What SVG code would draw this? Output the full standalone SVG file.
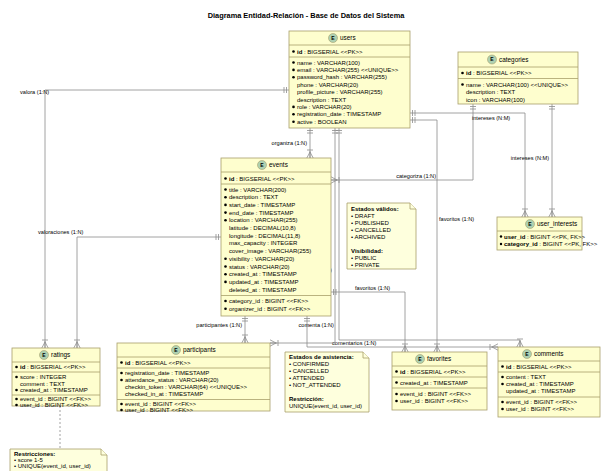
<svg xmlns="http://www.w3.org/2000/svg" width="613" height="471" viewBox="0 0 613 471">
<style>
text{font-family:"Liberation Sans",Arial,sans-serif;fill:#000}
.t{font-size:7.4px;font-weight:bold}
.a{font-size:6px}
.h{font-size:6.4px}
.l{font-size:5.6px}
.box{fill:#FEFECE;stroke:#A89F6B;stroke-width:0.8}
.sep{stroke:#A89F6B;stroke-width:0.8}
.note{fill:#FEFFDD;stroke:#A89F6B;stroke-width:0.8}
.ec{fill:#ADD1B2;stroke:#A89F6B;stroke-width:0.6}
.el{font-size:5px;font-weight:bold;text-anchor:middle}
.c{fill:none;stroke:#8C8C8C;stroke-width:0.8}
.b{fill:#000}
</style>
<defs>
<marker id="many" markerUnits="userSpaceOnUse" markerWidth="10" markerHeight="10" refX="10" refY="5" orient="auto">
<path d="M3,5 L10,5 M4,5 L10,1.8 M4,5 L10,8.2 M2,2 L2,8" fill="none" stroke="#8C8C8C" stroke-width="0.8"/>
</marker>
<marker id="one" markerUnits="userSpaceOnUse" markerWidth="10" markerHeight="10" refX="10" refY="5" orient="auto-start-reverse">
<path d="M5,2 L5,8 M7.5,2 L7.5,8" fill="none" stroke="#8C8C8C" stroke-width="0.8"/>
</marker>
</defs>
<rect width="613" height="471" fill="#FFFFFF"/>
<text class="t" x="306" y="18" text-anchor="middle">Diagrama Entidad-Relación - Base de Datos del Sistema</text>

<g id="connectors">
<polyline class="c" points="289,90 45,90 45,348" marker-start="url(#one)" marker-end="url(#many)"/>
<text class="l" x="20" y="94">valora (1:N)</text>
<polyline class="c" points="221,237 77,237 77,348" marker-start="url(#one)" marker-end="url(#many)"/>
<text class="l" x="38" y="234">valoraciones (1:N)</text>
<polyline class="c" points="310,128 310,158" marker-start="url(#one)" marker-end="url(#many)"/>
<text class="l" x="307" y="145" text-anchor="end">organiza (1:N)</text>
<polyline class="c" points="473,104 473,180 331,180" marker-start="url(#one)" marker-end="url(#many)"/>
<text class="l" x="436" y="178" text-anchor="end">categoriza (1:N)</text>
<polyline class="c" points="410,113 525,113 525,217" marker-start="url(#one)" marker-end="url(#many)"/>
<text class="l" x="472" y="120">intereses (N:M)</text>
<polyline class="c" points="552,104 552,217" marker-start="url(#one)" marker-end="url(#many)"/>
<text class="l" x="549" y="160" text-anchor="end">intereses (N:M)</text>
<polyline class="c" points="410,120 437,120 437,352" marker-start="url(#one)" marker-end="url(#many)"/>
<text class="l" x="439" y="221">favoritos (1:N)</text>
<polyline class="c" points="331,292 405,292 405,352" marker-start="url(#one)" marker-end="url(#many)"/>
<text class="l" x="355" y="290">favoritos (1:N)</text>
<polyline class="c" points="245,316 245,343" marker-start="url(#one)" marker-end="url(#many)"/>
<text class="l" x="242" y="327" text-anchor="end">participantes (1:N)</text>
<polyline class="c" points="307,316 307,347 498,347" marker-start="url(#one)" marker-end="url(#many)"/>
<text class="l" x="332" y="345">comentarios (1:N)</text>
<polyline class="c" points="335,128 335,343 270,343" marker-start="url(#one)" marker-end="url(#many)"/>
<text class="l" x="332" y="272" text-anchor="end">participa (1:N)</text>
<polyline class="c" points="339,128 339,340 520,340 520,347" marker-start="url(#one)" marker-end="url(#many)"/>
<text class="l" x="334" y="327" text-anchor="end">comenta (1:N)</text>
<line class="c" x1="60" y1="406" x2="60" y2="449" stroke-dasharray="2,2"/>
</g>

<g id="users">
<rect class="box" x="289" y="31" width="121" height="97"/>
<circle class="ec" cx="333" cy="38" r="4.5"/><text class="el" x="333" y="39.8">E</text>
<text class="h" x="340" y="40.3">users</text>
<line class="sep" x1="289" y1="45" x2="410" y2="45"/>
<circle class="b" cx="293.5" cy="51.5" r="1.3"/><text class="a" x="297" y="53.5"><tspan font-weight="bold">id</tspan> : BIGSERIAL &lt;&lt;PK&gt;&gt;</text>
<line class="sep" x1="289" y1="57" x2="410" y2="57"/>
<circle class="b" cx="293.5" cy="62.5" r="1.3"/><text class="a" x="297" y="64.5">name : VARCHAR(100)</text>
<circle class="b" cx="293.5" cy="69.9" r="1.3"/><text class="a" x="297" y="71.9">email : VARCHAR(255) &lt;&lt;UNIQUE&gt;&gt;</text>
<circle class="b" cx="293.5" cy="77.3" r="1.3"/><text class="a" x="297" y="79.3">password_hash : VARCHAR(255)</text>
<text class="a" x="297" y="86.7">phone : VARCHAR(20)</text>
<text class="a" x="297" y="94.1">profile_picture : VARCHAR(255)</text>
<text class="a" x="297" y="101.5">description : TEXT</text>
<circle class="b" cx="293.5" cy="106.9" r="1.3"/><text class="a" x="297" y="108.9">role : VARCHAR(20)</text>
<circle class="b" cx="293.5" cy="114.3" r="1.3"/><text class="a" x="297" y="116.3">registration_date : TIMESTAMP</text>
<circle class="b" cx="293.5" cy="121.7" r="1.3"/><text class="a" x="297" y="123.7">active : BOOLEAN</text>
</g>

<g id="categories">
<rect class="box" x="458" y="52" width="120" height="52"/>
<circle class="ec" cx="492" cy="59.5" r="4.5"/><text class="el" x="492" y="61.3">E</text>
<text class="h" x="499" y="61.8">categories</text>
<line class="sep" x1="458" y1="67" x2="578" y2="67"/>
<circle class="b" cx="462.5" cy="73" r="1.3"/><text class="a" x="466" y="75"><tspan font-weight="bold">id</tspan> : BIGSERIAL &lt;&lt;PK&gt;&gt;</text>
<line class="sep" x1="458" y1="78.5" x2="578" y2="78.5"/>
<circle class="b" cx="462.5" cy="84.5" r="1.3"/><text class="a" x="466" y="86.5">name : VARCHAR(100) &lt;&lt;UNIQUE&gt;&gt;</text>
<text class="a" x="466" y="94">description : TEXT</text>
<text class="a" x="466" y="101.5">icon : VARCHAR(100)</text>
</g>

<g id="events">
<rect class="box" x="221" y="158" width="110" height="158"/>
<circle class="ec" cx="262" cy="165" r="4.5"/><text class="el" x="262" y="166.8">E</text>
<text class="h" x="269" y="167.3">events</text>
<line class="sep" x1="221" y1="172" x2="331" y2="172"/>
<circle class="b" cx="225.5" cy="178.5" r="1.3"/><text class="a" x="229" y="180.5"><tspan font-weight="bold">id</tspan> : BIGSERIAL &lt;&lt;PK&gt;&gt;</text>
<line class="sep" x1="221" y1="184" x2="331" y2="184"/>
<circle class="b" cx="225.5" cy="189.5" r="1.3"/><text class="a" x="229" y="191.5">title : VARCHAR(200)</text>
<circle class="b" cx="225.5" cy="197.2" r="1.3"/><text class="a" x="229" y="199.2">description : TEXT</text>
<circle class="b" cx="225.5" cy="204.9" r="1.3"/><text class="a" x="229" y="206.9">start_date : TIMESTAMP</text>
<circle class="b" cx="225.5" cy="212.6" r="1.3"/><text class="a" x="229" y="214.6">end_date : TIMESTAMP</text>
<circle class="b" cx="225.5" cy="220.3" r="1.3"/><text class="a" x="229" y="222.3">location : VARCHAR(255)</text>
<text class="a" x="229" y="230">latitude : DECIMAL(10,8)</text>
<text class="a" x="229" y="237.7">longitude : DECIMAL(11,8)</text>
<text class="a" x="229" y="245.4">max_capacity : INTEGER</text>
<text class="a" x="229" y="253.1">cover_image : VARCHAR(255)</text>
<circle class="b" cx="225.5" cy="258.8" r="1.3"/><text class="a" x="229" y="260.8">visibility : VARCHAR(20)</text>
<circle class="b" cx="225.5" cy="266.5" r="1.3"/><text class="a" x="229" y="268.5">status : VARCHAR(20)</text>
<circle class="b" cx="225.5" cy="274.2" r="1.3"/><text class="a" x="229" y="276.2">created_at : TIMESTAMP</text>
<circle class="b" cx="225.5" cy="281.9" r="1.3"/><text class="a" x="229" y="283.9">updated_at : TIMESTAMP</text>
<text class="a" x="229" y="291.6">deleted_at : TIMESTAMP</text>
<line class="sep" x1="221" y1="295.5" x2="331" y2="295.5"/>
<circle class="b" cx="225.5" cy="301" r="1.3"/><text class="a" x="229" y="303">category_id : BIGINT &lt;&lt;FK&gt;&gt;</text>
<circle class="b" cx="225.5" cy="308.7" r="1.3"/><text class="a" x="229" y="310.7">organizer_id : BIGINT &lt;&lt;FK&gt;&gt;</text>
</g>

<g id="note-eventos">
<path class="note" d="M347,203 L410,203 L416,209 L416,269 L347,269 Z"/>
<path class="note" d="M410,203 L410,209 L416,209"/>
<text class="a" x="351" y="210.5" font-weight="bold">Estados válidos:</text>
<text class="a" x="351" y="217.5">• DRAFT</text>
<text class="a" x="351" y="224.5">• PUBLISHED</text>
<text class="a" x="351" y="231.5">• CANCELLED</text>
<text class="a" x="351" y="238.5">• ARCHIVED</text>
<text class="a" x="351" y="252.5" font-weight="bold">Visibilidad:</text>
<text class="a" x="351" y="259.5">• PUBLIC</text>
<text class="a" x="351" y="266.5">• PRIVATE</text>
</g>

<g id="user_interests">
<rect class="box" x="497" y="217" width="85" height="33"/>
<circle class="ec" cx="530" cy="224" r="4.5"/><text class="el" x="530" y="225.8">E</text>
<text class="h" x="537" y="226.3">user_interests</text>
<line class="sep" x1="497" y1="231" x2="582" y2="231"/>
<circle class="b" cx="501" cy="236.5" r="1.2"/><text class="a" x="504" y="238.5" font-size="5.6"><tspan font-weight="bold">user_id</tspan> : BIGINT &lt;&lt;PK, FK&gt;&gt;</text>
<circle class="b" cx="501" cy="244" r="1.2"/><text class="a" x="504" y="246" font-size="5.6"><tspan font-weight="bold">category_id</tspan> : BIGINT &lt;&lt;PK, FK&gt;&gt;</text>
</g>

<g id="ratings">
<rect class="box" x="12" y="348" width="88" height="58"/>
<circle class="ec" cx="44" cy="355" r="4.5"/><text class="el" x="44" y="356.8">E</text>
<text class="h" x="51" y="357.3">ratings</text>
<line class="sep" x1="12" y1="362" x2="100" y2="362"/>
<circle class="b" cx="16.5" cy="367" r="1.3"/><text class="a" x="20" y="369"><tspan font-weight="bold">id</tspan> : BIGSERIAL &lt;&lt;PK&gt;&gt;</text>
<line class="sep" x1="12" y1="372" x2="100" y2="372"/>
<circle class="b" cx="16.5" cy="377" r="1.3"/><text class="a" x="20" y="379">score : INTEGER</text>
<text class="a" x="20" y="385.5">comment : TEXT</text>
<circle class="b" cx="16.5" cy="390" r="1.3"/><text class="a" x="20" y="392">created_at : TIMESTAMP</text>
<line class="sep" x1="12" y1="395" x2="100" y2="395"/>
<circle class="b" cx="16.5" cy="399" r="1.3"/><text class="a" x="20" y="401">event_id : BIGINT &lt;&lt;FK&gt;&gt;</text>
<circle class="b" cx="16.5" cy="405" r="1.3"/><text class="a" x="20" y="407">user_id : BIGINT &lt;&lt;FK&gt;&gt;</text>
</g>

<g id="note-ratings">
<path class="note" d="M10,449 L101,449 L107,455 L107,475 L10,475 Z"/>
<path class="note" d="M101,449 L101,455 L107,455"/>
<text class="a" x="14" y="456" font-weight="bold">Restricciones:</text>
<text class="a" x="14" y="462">• score 1-5</text>
<text class="a" x="14" y="468">• UNIQUE(event_id, user_id)</text>
</g>

<g id="participants">
<rect class="box" x="117" y="343" width="153" height="68"/>
<circle class="ec" cx="176" cy="350" r="4.5"/><text class="el" x="176" y="351.8">E</text>
<text class="h" x="183" y="352.3">participants</text>
<line class="sep" x1="117" y1="357" x2="270" y2="357"/>
<circle class="b" cx="121.5" cy="362.5" r="1.3"/><text class="a" x="125" y="364.5"><tspan font-weight="bold">id</tspan> : BIGSERIAL &lt;&lt;PK&gt;&gt;</text>
<line class="sep" x1="117" y1="368" x2="270" y2="368"/>
<circle class="b" cx="121.5" cy="373" r="1.3"/><text class="a" x="125" y="375">registration_date : TIMESTAMP</text>
<circle class="b" cx="121.5" cy="380" r="1.3"/><text class="a" x="125" y="382">attendance_status : VARCHAR(20)</text>
<text class="a" x="125" y="389">checkin_token : VARCHAR(64) &lt;&lt;UNIQUE&gt;&gt;</text>
<text class="a" x="125" y="396">checked_in_at : TIMESTAMP</text>
<line class="sep" x1="117" y1="399.5" x2="270" y2="399.5"/>
<circle class="b" cx="121.5" cy="404" r="1.3"/><text class="a" x="125" y="406">event_id : BIGINT &lt;&lt;FK&gt;&gt;</text>
<circle class="b" cx="121.5" cy="410" r="1.3"/><text class="a" x="125" y="412">user_id : BIGINT &lt;&lt;FK&gt;&gt;</text>
</g>

<g id="note-participants">
<path class="note" d="M285,352 L363,352 L369,358 L369,412 L285,412 Z"/>
<path class="note" d="M363,352 L363,358 L369,358"/>
<text class="a" x="289" y="359" font-weight="bold">Estados de asistencia:</text>
<text class="a" x="289" y="366">• CONFIRMED</text>
<text class="a" x="289" y="373">• CANCELLED</text>
<text class="a" x="289" y="380">• ATTENDED</text>
<text class="a" x="289" y="387">• NOT_ATTENDED</text>
<text class="a" x="289" y="401" font-weight="bold">Restricción:</text>
<text class="a" x="289" y="408">UNIQUE(event_id, user_id)</text>
</g>

<g id="favorites">
<rect class="box" x="392" y="352" width="95" height="58"/>
<circle class="ec" cx="420" cy="359" r="4.5"/><text class="el" x="420" y="360.8">E</text>
<text class="h" x="427" y="361.3">favorites</text>
<line class="sep" x1="392" y1="366" x2="487" y2="366"/>
<circle class="b" cx="396.5" cy="371.5" r="1.3"/><text class="a" x="400" y="373.5"><tspan font-weight="bold">id</tspan> : BIGSERIAL &lt;&lt;PK&gt;&gt;</text>
<line class="sep" x1="392" y1="377" x2="487" y2="377"/>
<circle class="b" cx="396.5" cy="382.5" r="1.3"/><text class="a" x="400" y="384.5">created_at : TIMESTAMP</text>
<line class="sep" x1="392" y1="388" x2="487" y2="388"/>
<circle class="b" cx="396.5" cy="394" r="1.3"/><text class="a" x="400" y="396">event_id : BIGINT &lt;&lt;FK&gt;&gt;</text>
<circle class="b" cx="396.5" cy="401" r="1.3"/><text class="a" x="400" y="403">user_id : BIGINT &lt;&lt;FK&gt;&gt;</text>
</g>

<g id="comments">
<rect class="box" x="498" y="347" width="102" height="70"/>
<circle class="ec" cx="527" cy="354" r="4.5"/><text class="el" x="527" y="355.8">E</text>
<text class="h" x="534" y="356.3">comments</text>
<line class="sep" x1="498" y1="361" x2="600" y2="361"/>
<circle class="b" cx="502.5" cy="366.5" r="1.3"/><text class="a" x="506" y="368.5"><tspan font-weight="bold">id</tspan> : BIGSERIAL &lt;&lt;PK&gt;&gt;</text>
<line class="sep" x1="498" y1="372" x2="600" y2="372"/>
<circle class="b" cx="502.5" cy="377" r="1.3"/><text class="a" x="506" y="379">content : TEXT</text>
<circle class="b" cx="502.5" cy="384" r="1.3"/><text class="a" x="506" y="386">created_at : TIMESTAMP</text>
<text class="a" x="506" y="393">updated_at : TIMESTAMP</text>
<line class="sep" x1="498" y1="397" x2="600" y2="397"/>
<circle class="b" cx="502.5" cy="402" r="1.3"/><text class="a" x="506" y="404">event_id : BIGINT &lt;&lt;FK&gt;&gt;</text>
<circle class="b" cx="502.5" cy="409" r="1.3"/><text class="a" x="506" y="411">user_id : BIGINT &lt;&lt;FK&gt;&gt;</text>
</g>
</svg>
